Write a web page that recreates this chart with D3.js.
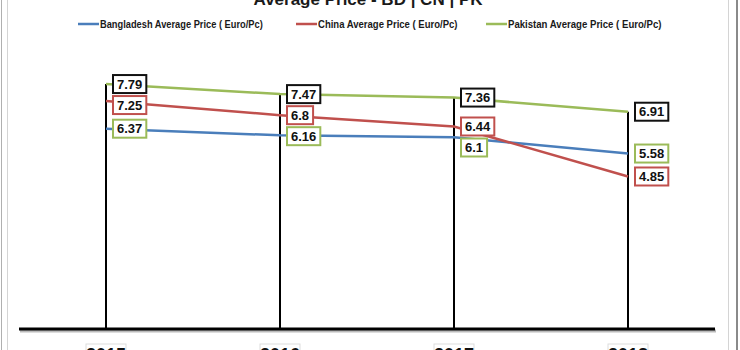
<!DOCTYPE html>
<html>
<head>
<meta charset="utf-8">
<script src="https://cdn.jsdelivr.net/npm/d3@7"></script>
<style>
  body { margin: 0; background: #fff; }
  svg { display: block; font-family: "Liberation Sans", Arial, sans-serif; }
</style>
</head>
<body>
<div id="chart"></div>
<script>
// data
var years = ['2015', '2016', '2017', '2018'];
var seriesNames = ['Bangladesh Average Price ( Euro/Pc)', 'China Average Price ( Euro/Pc)', 'Pakistan Average Price ( Euro/Pc)'];
var bangladesh = [6.37, 6.16, 6.1, 5.58];
var china = [7.25, 6.8, 6.44, 4.85];
var pakistan = [7.79, 7.47, 7.36, 6.91];
var seriesColors = ['#4a7ebb', '#c0504d', '#9bbb59'];
// the label boxes use a shifted colour set in the original
var boxColors = ['#9bbb59', '#c0504d', '#111111'];

var width = 740, height = 350;
var seriesData = [bangladesh, china, pakistan];

var svg = d3.select('#chart').append('svg')
    .attr('width', width)
    .attr('height', height);

// frame edges
svg.append('line').attr('x1', 1.5).attr('x2', 1.5).attr('y1', 0).attr('y2', height)
    .attr('stroke', '#b0b0b0').attr('stroke-width', 1);
svg.append('line').attr('x1', 7.5).attr('x2', 7.5).attr('y1', 0).attr('y2', height)
    .attr('stroke', '#d4d4d4').attr('stroke-width', 1);
svg.append('line').attr('x1', 728.5).attr('x2', 728.5).attr('y1', 0).attr('y2', height)
    .attr('stroke', '#d4d4d4').attr('stroke-width', 1);
svg.append('line').attr('x1', 737).attr('x2', 737).attr('y1', 0).attr('y2', height)
    .attr('stroke', '#8a8a8a').attr('stroke-width', 2);

// title (cut off at top)
svg.append('text')
    .attr('x', 368).attr('y', 5)
    .attr('text-anchor', 'middle')
    .attr('font-size', 17).attr('font-weight', 'bold')
    .attr('fill', '#1a1a1a')
    .text('Average Price - BD | CN | PK');

// legend
var legendX = [78, 296, 486];
var legend = svg.selectAll('g.legend')
    .data(seriesNames)
    .enter().append('g')
    .attr('class', 'legend')
    .attr('transform', function(d, i) { return 'translate(' + legendX[i] + ',24)'; });
legend.append('line')
    .attr('x1', 0).attr('x2', 21)
    .attr('stroke', function(d, i) { return seriesColors[i]; })
    .attr('stroke-width', 2.5);
legend.append('text')
    .attr('x', 22).attr('y', 3.5)
    .attr('font-size', 10).attr('font-weight', 'bold')
    .attr('fill', '#1a1a1a')
    .attr('textLength', function(d) { return d.length * 4.65; })
    .attr('lengthAdjust', 'spacingAndGlyphs')
    .text(function(d) { return d; });

// scales
var x = d3.scaleBand().domain(years).range([19, 715]);
var y = d3.scaleLinear().domain([0, 9]).range([329, 46]);
var cx = function(d) { return x(d) + x.bandwidth() / 2; };

var plot = svg.append('g');

// drop lines
plot.selectAll('line.drop')
    .data(years)
    .enter().append('line')
    .attr('class', 'drop')
    .attr('x1', cx).attr('x2', cx)
    .attr('y1', function(d, i) { return y(d3.max(seriesData, function(s) { return s[i]; })); })
    .attr('y2', y(0))
    .attr('stroke', '#000').attr('stroke-width', 2);

// x axis line with soft shadow
plot.append('line')
    .attr('x1', 20).attr('x2', 716).attr('y1', y(0) + 2).attr('y2', y(0) + 2)
    .attr('stroke', '#bbb').attr('stroke-width', 3);
plot.append('line')
    .attr('x1', 19).attr('x2', 715).attr('y1', y(0)).attr('y2', y(0))
    .attr('stroke', '#000').attr('stroke-width', 3);

// series lines
var line = d3.line()
    .x(function(d, i) { return cx(years[i]); })
    .y(function(d) { return y(d); });

plot.selectAll('path.series')
    .data(seriesData)
    .enter().append('path')
    .attr('class', 'series')
    .attr('d', line)
    .attr('fill', 'none')
    .attr('stroke', function(d, i) { return seriesColors[i]; })
    .attr('stroke-width', 2.5);

// data labels, pushed down when they collide
var boxH = 18, gap = 3;
var labels = [];
years.forEach(function(yr, i) {
    var items = seriesData.map(function(s, k) {
        return { year: yr, value: s[i], series: k, cy: y(s[i]) };
    }).sort(function(a, b) { return a.cy - b.cy; });
    var lastBottom = -Infinity;
    items.forEach(function(it) {
        var top = it.cy - boxH / 2;
        if (top < lastBottom + gap) top = lastBottom + gap;
        it.top = top;
        lastBottom = top + boxH;
        labels.push(it);
    });
});

var labelG = plot.selectAll('g.label')
    .data(labels)
    .enter().append('g')
    .attr('class', 'label')
    .attr('transform', function(d) { return 'translate(' + (cx(d.year) + 7) + ',' + d.top + ')'; });

labelG.append('text')
    .attr('x', 4).attr('y', boxH / 2 + 4.5)
    .attr('font-size', 13).attr('font-weight', 'bold')
    .attr('fill', '#111')
    .text(function(d) { return d.value; });

labelG.each(function(d) {
    var g = d3.select(this);
    var w = g.select('text').node().getComputedTextLength() + 8;
    g.insert('rect', 'text')
        .attr('x', 0).attr('y', 0)
        .attr('width', w).attr('height', boxH)
        .attr('fill', '#fff')
        .attr('stroke', boxColors[d.series])
        .attr('stroke-width', 2);
});

// year labels (cut off at bottom)
var yearG = plot.selectAll('g.year')
    .data(years)
    .enter().append('g')
    .attr('class', 'year')
    .attr('transform', function(d) { return 'translate(' + cx(d) + ',0)'; });
yearG.append('rect')
    .attr('x', -20).attr('y', 344).attr('width', 40).attr('height', 20)
    .attr('fill', '#fff').attr('stroke', '#ddd').attr('stroke-width', 1);
yearG.append('text')
    .attr('y', 361)
    .attr('text-anchor', 'middle')
    .attr('font-size', 18).attr('font-weight', 'bold')
    .attr('fill', '#111')
    .text(function(d) { return d; });
</script>
</body>
</html>
